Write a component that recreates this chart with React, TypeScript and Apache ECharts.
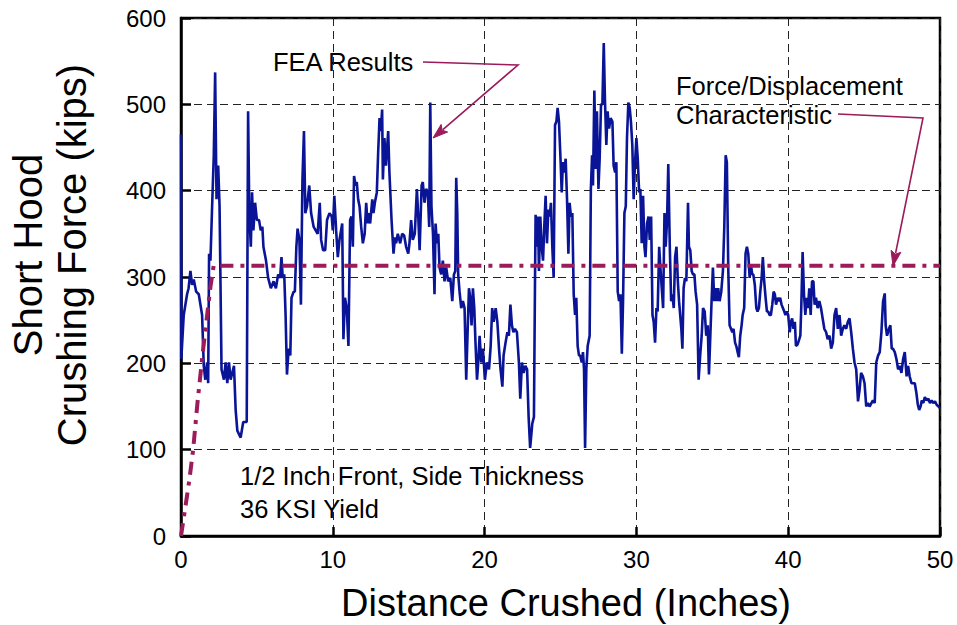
import React, { useEffect, useRef } from "react";
import * as echarts from "echarts";

// Distance crushed (inches) vs crushing force (kips) — FEA results
const feaResults: [number, number][] = [
  [0, 465], [0.02, 205], [0.18, 256], [0.4, 280], [0.5, 287], [0.62, 307], [0.73, 291], [0.84, 297],
  [1.0, 283], [1.17, 280], [1.39, 256], [1.5, 197], [1.6, 181], [1.72, 201], [1.79, 177], [1.85, 327],
  [1.94, 319], [2.05, 382], [2.16, 441], [2.25, 537], [2.34, 390], [2.45, 429], [2.54, 382], [2.67, 193],
  [2.83, 181], [2.94, 201], [3.05, 177], [3.16, 201], [3.27, 181], [3.49, 197], [3.6, 146], [3.71, 122],
  [3.93, 114], [4.1, 132], [4.33, 132], [4.42, 492], [4.5, 374], [4.6, 335], [4.68, 398], [4.77, 354],
  [4.88, 386], [5.0, 366], [5.14, 366], [5.25, 354], [5.36, 358], [5.43, 335], [5.6, 319], [5.74, 299],
  [5.92, 287], [6.1, 295], [6.25, 287], [6.4, 303], [6.53, 299], [6.62, 323], [6.7, 299], [6.8, 303],
  [6.89, 256], [6.98, 187], [7.09, 217], [7.2, 209], [7.28, 276], [7.42, 283], [7.5, 283], [7.6, 335],
  [7.68, 356], [7.8, 343], [7.9, 268], [8.0, 413], [8.1, 469], [8.19, 374], [8.3, 382], [8.45, 406],
  [8.57, 374], [8.74, 358], [8.87, 354], [9.0, 350], [9.14, 386], [9.23, 343], [9.36, 331], [9.5, 331],
  [9.62, 366], [9.78, 374], [9.93, 370],
  [10.0, 354], [10.1, 394], [10.22, 354], [10.33, 323], [10.44, 343], [10.62, 362], [10.7, 228], [10.8, 276],
  [10.92, 264], [11.03, 220], [11.14, 366], [11.23, 370], [11.32, 335], [11.4, 417], [11.5, 406], [11.58, 410],
  [11.67, 390], [11.76, 382], [11.87, 358], [11.98, 339], [12.1, 350], [12.2, 386], [12.29, 362], [12.36, 374],
  [12.46, 362], [12.6, 390], [12.68, 374], [12.77, 386], [12.9, 398], [12.99, 445], [13.08, 484], [13.16, 469],
  [13.25, 494], [13.3, 413], [13.4, 461], [13.5, 429], [13.65, 469], [13.73, 421], [13.87, 366], [14.0, 327],
  [14.1, 346], [14.17, 339], [14.28, 350], [14.44, 339], [14.57, 350], [14.7, 348], [14.83, 335], [14.97, 327],
  [15.05, 339], [15.16, 366], [15.27, 343], [15.4, 350], [15.54, 402], [15.63, 370], [15.72, 331], [15.85, 406],
  [15.93, 410], [16.04, 386], [16.15, 402], [16.26, 398], [16.35, 358], [16.42, 502], [16.5, 382], [16.6, 350],
  [16.7, 280], [16.77, 362], [16.86, 339], [16.95, 350], [17.03, 311], [17.14, 303], [17.25, 319], [17.36, 295],
  [17.47, 311], [17.6, 295], [17.74, 299], [17.87, 272], [17.98, 303], [18.07, 307], [18.13, 415], [18.2, 374],
  [18.26, 303], [18.35, 283], [18.46, 264], [18.57, 272], [18.68, 264], [18.79, 181], [18.88, 236], [18.97, 287],
  [19.05, 276], [19.14, 244], [19.23, 287], [19.32, 264], [19.4, 224], [19.5, 181], [19.58, 201], [19.67, 232],
  [19.78, 201], [19.89, 217], [20.02, 181], [20.15, 201], [20.29, 193], [20.4, 220], [20.5, 264], [20.6, 248],
  [20.73, 264], [20.84, 248], [20.95, 217], [21.05, 193], [21.17, 173], [21.25, 209], [21.38, 224], [21.5, 236],
  [21.6, 232], [21.7, 268], [21.8, 244], [21.9, 236], [22.0, 240], [22.13, 236], [22.26, 201], [22.35, 159],
  [22.46, 201], [22.57, 189], [22.68, 197], [22.8, 193], [22.9, 138], [23.0, 102],
  [23.14, 130], [23.25, 138], [23.32, 295], [23.36, 372], [23.45, 335], [23.52, 370], [23.58, 307], [23.67, 370],
  [23.76, 335], [23.85, 319], [23.93, 358], [24.02, 394], [24.11, 339], [24.2, 378], [24.29, 370], [24.37, 386],
  [24.46, 335], [24.55, 299], [24.64, 476], [24.73, 480], [24.81, 496], [24.9, 480], [25.0, 437], [25.08, 398],
  [25.16, 433], [25.25, 421], [25.34, 437], [25.43, 390], [25.52, 327], [25.6, 386], [25.69, 370], [25.78, 374],
  [25.87, 280], [25.96, 256], [26.04, 276], [26.13, 220], [26.22, 209], [26.3, 209], [26.4, 201], [26.48, 213],
  [26.55, 193], [26.62, 102], [26.7, 193], [26.79, 220], [26.92, 232], [27.0, 402], [27.08, 441], [27.14, 406],
  [27.23, 516], [27.32, 425], [27.4, 492], [27.5, 402], [27.58, 437], [27.67, 500], [27.76, 500], [27.85, 571],
  [27.93, 504], [28.02, 453], [28.1, 492], [28.2, 472], [28.3, 484], [28.42, 480], [28.5, 429], [28.6, 421],
  [28.68, 433], [28.77, 283], [28.86, 272], [28.95, 280], [29.04, 211], [29.12, 272], [29.21, 374], [29.3, 382],
  [29.38, 461], [29.47, 502], [29.56, 496], [29.64, 480], [29.73, 453], [29.82, 390], [29.9, 429], [30.0, 461],
  [30.09, 437], [30.18, 398], [30.26, 402], [30.35, 339], [30.44, 394], [30.53, 335], [30.6, 323], [30.7, 362],
  [30.8, 370], [30.88, 343], [30.97, 370], [31.06, 256], [31.14, 248], [31.23, 224], [31.32, 264], [31.4, 260],
  [31.5, 335], [31.58, 311], [31.67, 287], [31.76, 264], [31.85, 374], [31.93, 335], [32.02, 366], [32.1, 431],
  [32.2, 335], [32.29, 272], [32.37, 280], [32.46, 264], [32.55, 323], [32.64, 335], [32.73, 295], [32.81, 272],
  [32.96, 240], [33.03, 217], [33.11, 287], [33.2, 299], [33.29, 295], [33.4, 386], [33.46, 335], [33.55, 331],
  [33.64, 307], [33.73, 303], [33.82, 303], [33.9, 283], [34.0, 268], [34.1, 181], [34.2, 209], [34.3, 232],
  [34.39, 264], [34.5, 260], [34.6, 232], [34.7, 244], [34.78, 187], [34.87, 232], [34.96, 276], [35.04, 311],
  [35.13, 272], [35.22, 287], [35.31, 272], [35.39, 287], [35.48, 272], [35.59, 283], [35.7, 307], [35.79, 358],
  [35.88, 441], [35.96, 433], [36.05, 311], [36.14, 244], [36.23, 240], [36.32, 236], [36.4, 240], [36.5, 224],
  [36.58, 220], [36.67, 213], [36.75, 207], [36.84, 232], [36.93, 244], [37.0, 256], [37.1, 264], [37.19, 327],
  [37.28, 335], [37.37, 327], [37.46, 299], [37.54, 315], [37.63, 303], [37.7, 303], [37.8, 291], [37.9, 264],
  [37.98, 260], [38.07, 264], [38.16, 283], [38.25, 299], [38.33, 323], [38.42, 295], [38.51, 276], [38.6, 260],
  [38.68, 260], [38.77, 256], [38.86, 256], [38.95, 268], [39.04, 283], [39.12, 280], [39.2, 268], [39.3, 276],
  [39.39, 272], [39.47, 276], [39.56, 268], [39.65, 264], [39.74, 260], [39.82, 256], [39.91, 260], [40.0, 256],
  [40.1, 236], [40.18, 248], [40.26, 252], [40.35, 240], [40.44, 248], [40.51, 220], [40.62, 222], [40.73, 228],
  [40.8, 232], [40.86, 264], [40.95, 329], [41.04, 280], [41.13, 256], [41.21, 276], [41.3, 264], [41.39, 287],
  [41.48, 256], [41.57, 295], [41.66, 295], [41.74, 268], [41.83, 276], [41.94, 264], [42.05, 272], [42.16, 264],
  [42.27, 252], [42.38, 240], [42.5, 236], [42.6, 228], [42.72, 232], [42.83, 217], [42.94, 224], [43.05, 256],
  [43.16, 264], [43.27, 240], [43.38, 256], [43.49, 232], [43.6, 240], [43.7, 244], [43.82, 240], [43.93, 248],
  [44.04, 252], [44.15, 236], [44.26, 217], [44.37, 201], [44.48, 193], [44.6, 156], [44.7, 169], [44.8, 189],
  [44.92, 185], [45.03, 177], [45.14, 150], [45.25, 154], [45.36, 150], [45.58, 157], [45.7, 154], [45.8, 201],
  [45.92, 209], [46.03, 213], [46.14, 236], [46.25, 272], [46.36, 281], [46.42, 244], [46.51, 232], [46.64, 240],
  [46.73, 244], [46.82, 217], [46.9, 217], [47.02, 213], [47.13, 205], [47.24, 193], [47.35, 197], [47.46, 189],
  [47.57, 205], [47.68, 213], [47.8, 185], [47.9, 197], [48.0, 185], [48.12, 177], [48.23, 177], [48.34, 177],
  [48.45, 165], [48.54, 152], [48.63, 146], [48.72, 150], [48.8, 157], [48.9, 154], [49.0, 161], [49.12, 157],
  [49.23, 159], [49.34, 154], [49.45, 157], [49.56, 154], [49.67, 156], [49.78, 152], [49.9, 150], [50.0, 148],
];

// Force/Displacement characteristic (ramp then plateau)
const characteristic: [number, number][] = [
  [0, 0], [0.3, 35], [0.55, 65], [0.8, 100], [1.1, 157], [1.45, 215], [1.75, 260], [1.95, 290], [2.15, 313], [50, 313],
];

const xAxisRange = { min: 0, max: 50, interval: 10 };
const yAxisRange = { min: 0, max: 600, interval: 100 };

const xTitle = "Distance Crushed (Inches)";
const yTitleLines = ["Short Hood", "Crushing Force (kips)"];
const feaLabel = "FEA Results";
const charLabelLines = ["Force/Displacement", "Characteristic"];
const noteLines = ["1/2 Inch Front, Side Thickness", "36 KSI Yield"];

const FONT = "'Liberation Sans', Arial, Helvetica, sans-serif";
const NAVY = "#0A1496";
const MAROON = "#9B1B5B";

function arrow(points: number[][], color: string) {
  const n = points.length;
  const tip = points[n - 1];
  const prev = points[n - 2];
  const dx = tip[0] - prev[0];
  const dy = tip[1] - prev[1];
  const len = Math.hypot(dx, dy);
  const ux = dx / len;
  const uy = dy / len;
  const L = 15;
  const W = 5;
  const bx = tip[0] - ux * L;
  const by = tip[1] - uy * L;
  const linePts = points.slice(0, n - 1).concat([[bx + ux * 2, by + uy * 2]]);
  return [
    {
      type: "polyline",
      shape: { points: linePts },
      style: { stroke: color, lineWidth: 1.6, fill: null },
      z: 100,
    },
    {
      type: "polygon",
      shape: {
        points: [
          tip,
          [bx - uy * W, by + ux * W],
          [bx + ux * 3, by + uy * 3],
          [bx + uy * W, by - ux * W],
        ],
      },
      style: { fill: color, stroke: color, lineWidth: 1 },
      z: 100,
    },
  ];
}

export default function App() {
  const ref = useRef<HTMLDivElement>(null);

  useEffect(() => {
    document.body.style.margin = "0";
    if (!ref.current) return;
    const chart = echarts.init(ref.current, null, { renderer: "svg" });

    const textStyle = (text: string, size: number, align: string = "left") => ({
      text,
      fill: "#000",
      font: `${size}px ${FONT}`,
      align,
      verticalAlign: "middle",
    });

    chart.setOption({
      animation: false,
      backgroundColor: "#fff",
      grid: {
        left: 181,
        right: 17,
        top: 18,
        bottom: 89,
        show: true,
        borderColor: "#000",
        borderWidth: 2.5,
        backgroundColor: "transparent",
      },
      xAxis: {
        type: "value",
        ...xAxisRange,
        axisLine: { show: true, lineStyle: { color: "#000", width: 2.5 } },
        axisTick: { show: true, inside: true, length: 9, lineStyle: { color: "#000", width: 2.5 } },
        axisLabel: { color: "#000", fontSize: 24, fontFamily: FONT, margin: 11 },
        splitLine: { show: true, lineStyle: { color: "#222", width: 1, type: [8, 5] } },
      },
      yAxis: {
        type: "value",
        ...yAxisRange,
        axisLine: { show: true, lineStyle: { color: "#000", width: 2.5 } },
        axisTick: { show: true, inside: true, length: 10, lineStyle: { color: "#000", width: 2.5 } },
        axisLabel: { color: "#000", fontSize: 24, fontFamily: FONT, margin: 15 },
        splitLine: { show: true, lineStyle: { color: "#222", width: 1, type: [8, 5] } },
      },
      series: [
        {
          name: "FEA Results",
          type: "line",
          data: feaResults,
          showSymbol: false,
          symbol: "none",
          lineStyle: { color: NAVY, width: 2.6 },
          z: 3,
        },
        {
          name: "Force/Displacement Characteristic",
          type: "line",
          data: characteristic,
          showSymbol: false,
          symbol: "none",
          lineStyle: { color: MAROON, width: 4, type: [13, 7, 4, 7] },
          z: 4,
        },
      ],
      graphic: [
        { type: "text", x: 566, y: 603, style: textStyle(xTitle, 38, "center") },
        { type: "text", x: 28, y: 255, rotation: Math.PI / 2, style: textStyle(yTitleLines[0], 40, "center") },
        { type: "text", x: 72, y: 255, rotation: Math.PI / 2, style: textStyle(yTitleLines[1], 40, "center") },
        { type: "text", x: 273, y: 62, style: textStyle(feaLabel, 25.5) },
        { type: "text", x: 676, y: 86, style: textStyle(charLabelLines[0], 25.5) },
        { type: "text", x: 676, y: 115, style: textStyle(charLabelLines[1], 25.5) },
        { type: "text", x: 240, y: 476, style: textStyle(noteLines[0], 25.5) },
        { type: "text", x: 240, y: 509, style: textStyle(noteLines[1], 25.5) },
        ...arrow([[423, 62], [518, 65], [433, 138]], MAROON),
        ...arrow([[838, 114], [923, 118], [893, 266]], MAROON),
      ],
    });

    return () => chart.dispose();
  }, []);

  return <div ref={ref} style={{ width: 957, height: 625 }} />;
}
